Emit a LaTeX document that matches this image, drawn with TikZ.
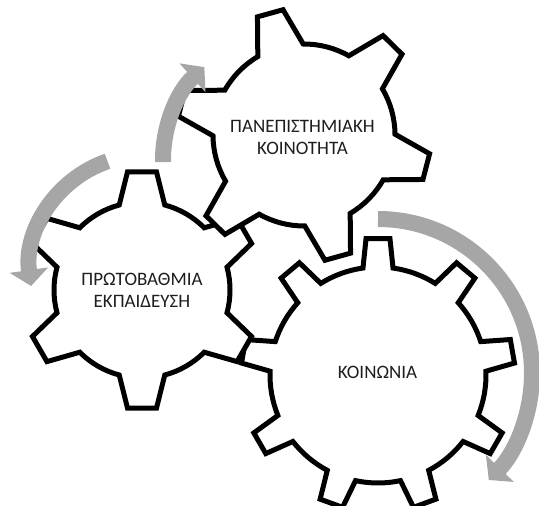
\documentclass[tikz,border=0pt]{standalone}
\usepackage{fontspec}
\setmainfont{Carlito}
\usepackage{tikz}
\usetikzlibrary{arrows.meta}
\definecolor{cyclegray}{RGB}{166,166,166}
\definecolor{gtext}{RGB}{30,30,30}

\begin{document}
\begin{tikzpicture}[
  x=1pt, y=1pt,
  font=\fontsize{19}{22}\selectfont,
  gear/.style={draw=black, fill=white, line width=5pt},
  geartext/.style={align=center, text=gtext},
  cycarrow/.style={draw=cyclegray, line width=16pt, -{Triangle[length=16pt, width=38pt]}},
]
\useasboundingbox (0,0) rectangle (539,506);
\coordinate (socC) at (378,131);
\coordinate (priC) at (142,216);
\coordinate (uniC) at (304,371);
\foreach \c/\n/\ph/\rin/\rout/\b/\t in {socC/8/90/108/137/8/5, priC/5/90/88/119/15/7, uniC/5/105.5/91/127/15/6}{
  \pgfmathsetmacro\sp{360/(\n+1)}
  \draw[gear, shift={(\c)}] ({\ph+\b}:\rin) \foreach \k in {0,...,\n}{
    -- ({\ph-\k*\sp+\t}:\rout) -- ({\ph-\k*\sp-\t}:\rout) -- ({\ph-\k*\sp-\b}:\rin)
    arc[start angle={\ph-\k*\sp-\b}, end angle={\ph-(\k+1)*\sp+\b}, radius=\rin]
  } -- cycle;
}
\node[geartext] (soc) at (377.5,133.5) {ΚΟΙΝΩΝΙΑ};
\node[geartext] (uni) at (302.5,368.5) {ΠΑΝΕΠΙΣΤΗΜΙΑΚΗ\\ΚΟΙΝΟΤΗΤΑ};
\node[geartext] (pri) at (142,216) {ΠΡΩΤΟΒΑΘΜΙΑ\\ΕΚΠΑΙΔΕΥΣΗ};
\coordinate (uniA) at (288,346);
\coordinate (priA) at (145,236);
\coordinate (socA) at (378,133);
\draw[cycarrow] ([shift={(181:125)}]uniA) arc[start angle=181, end angle=132, radius=125];
\draw[cycarrow] ([shift={(109:115)}]priA) arc[start angle=109, end angle=188, radius=115];
\draw[cycarrow] ([shift={(90:154)}]socA) arc[start angle=90, end angle=-44, radius=154];
\end{tikzpicture}
\end{document}
